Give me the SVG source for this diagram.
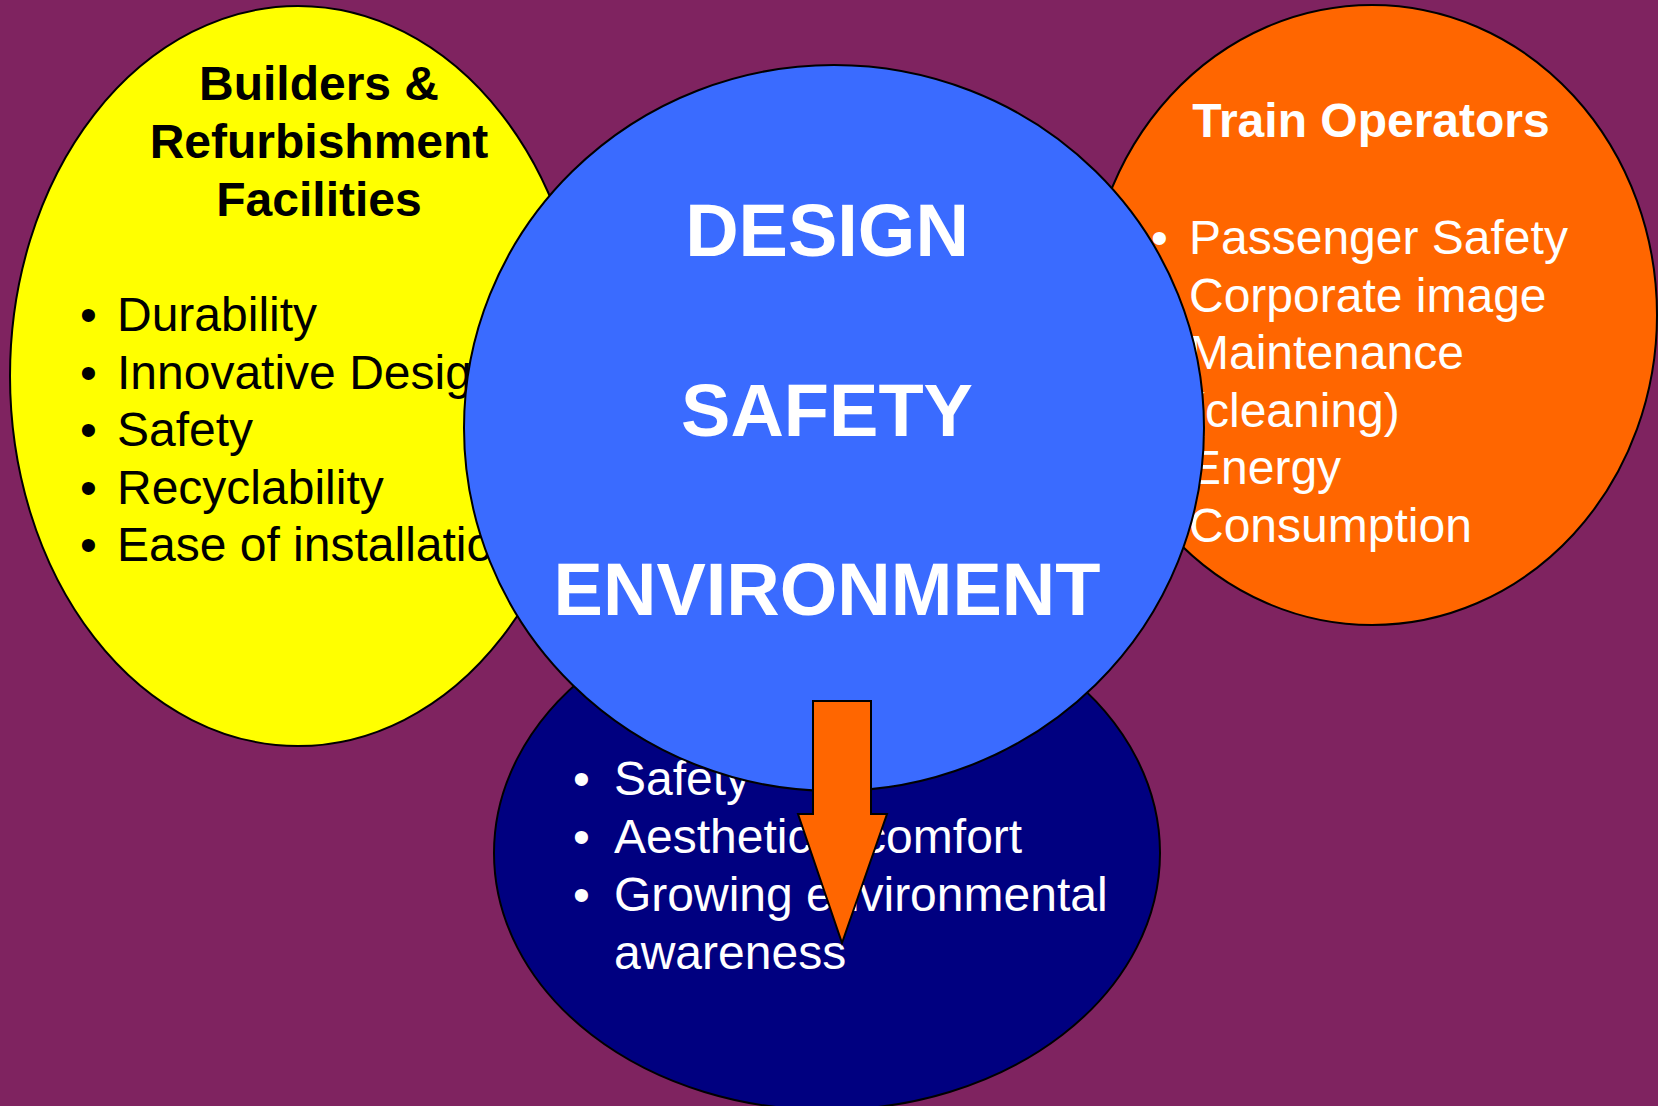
<svg xmlns="http://www.w3.org/2000/svg" width="1658" height="1106" viewBox="0 0 1658 1106">
<style>
.sh{stroke:#000;stroke-width:2}
.t{font-family:"Liberation Sans",Arial,sans-serif;font-size:48px}
.b{font-weight:bold}
.big{font-family:"Liberation Sans",Arial,sans-serif;font-size:74px;font-weight:bold;fill:#fff;text-anchor:middle}
.k{fill:#000}
.w{fill:#fff}
</style>
<rect width="1658" height="1106" fill="#7F2360"/>
<g id="builders">
<ellipse class="sh" cx="298" cy="376" rx="288" ry="370" fill="#FFFF00"/>
<g class="t k">
<text class="b" x="319" y="100" text-anchor="middle">Builders &amp;</text>
<text class="b" x="319" y="158" text-anchor="middle">Refurbishment</text>
<text class="b" x="319" y="216" text-anchor="middle">Facilities</text>
<text x="80" y="331">•</text><text x="117" y="331">Durability</text>
<text x="80" y="389">•</text><text x="117" y="389">Innovative Design</text>
<text x="80" y="446">•</text><text x="117" y="446">Safety</text>
<text x="80" y="504">•</text><text x="117" y="504">Recyclability</text>
<text x="80" y="561">•</text><text x="117" y="561">Ease of installation</text>
</g>
</g>
<g id="operators">
<ellipse class="sh" cx="1372" cy="315" rx="285" ry="310" fill="#FF6600"/>
<g class="t w">
<text class="b" x="1371" y="137" text-anchor="middle">Train Operators</text>
<text x="1151" y="254">•</text><text x="1189" y="254">Passenger Safety</text>
<text x="1151" y="312">•</text><text x="1189" y="312">Corporate image</text>
<text x="1151" y="369">•</text><text x="1189" y="369">Maintenance</text>
<text x="1189" y="427">(cleaning)</text>
<text x="1151" y="484">•</text><text x="1189" y="484">Energy</text>
<text x="1189" y="542">Consumption</text>
</g>
</g>
<g id="passengers">
<ellipse class="sh" cx="827" cy="853" rx="333" ry="257" fill="#000080"/>
<g class="t w">
<text x="573" y="795">•</text><text x="614" y="795">Safety</text>
<text x="573" y="853">•</text><text x="614" y="853">Aesthetics, comfort</text>
<text x="573" y="911">•</text><text x="614" y="911">Growing environmental</text>
<text x="614" y="969">awareness</text>
</g>
</g>
<g id="core">
<ellipse class="sh" cx="834" cy="428" rx="370" ry="363" fill="#3A6BFF"/>
<text class="big" x="827" y="256">DESIGN</text>
<text class="big" x="827" y="436">SAFETY</text>
<text class="big" x="827" y="615">ENVIRONMENT</text>
</g>
<g id="connectors">
<path class="sh" d="M813,701 H871 V814 H887 L842,943 L798,814 H813 Z" fill="#FF6600"/>
</g>
</svg>
